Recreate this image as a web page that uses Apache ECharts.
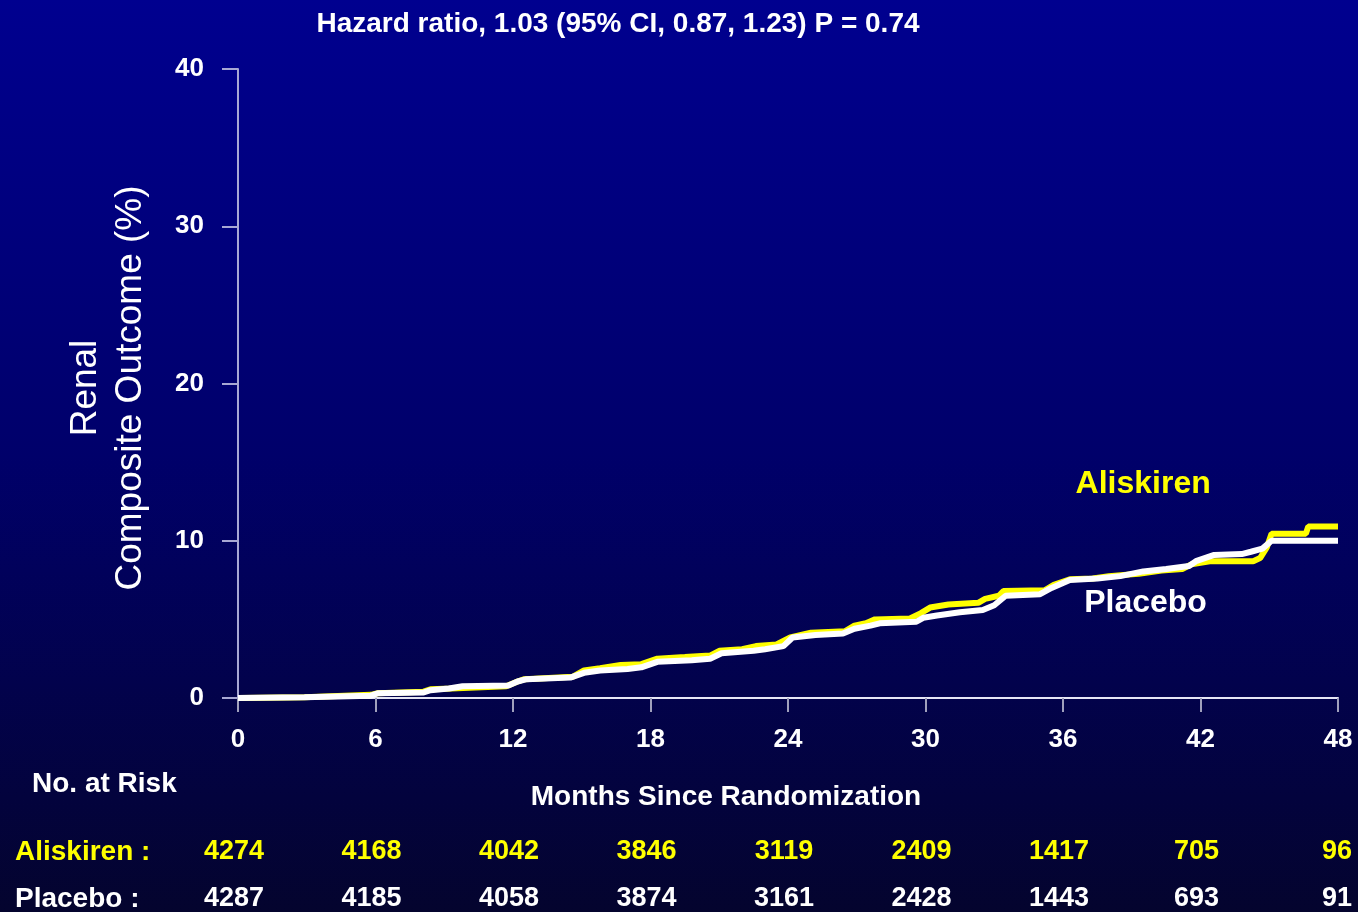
<!DOCTYPE html>
<html>
<head>
<meta charset="utf-8">
<script src="https://cdn.jsdelivr.net/npm/echarts@6/dist/echarts.min.js"></script>
<style>
  html, body { margin: 0; padding: 0; background: #000060; }
  #chart { width: 1358px; height: 912px; }
</style>
</head>
<body>
<div id="chart"></div>
<script>
// Kaplan–Meier cumulative incidence of the renal composite outcome
const FONT = '"Liberation Sans", Arial, sans-serif';

const titleText = 'Hazard ratio, 1.03 (95% CI, 0.87, 1.23) P = 0.74';
const monthTicks = [0, 6, 12, 18, 24, 30, 36, 42, 48];
const percentTicks = [0, 10, 20, 30, 40];

// [months, cumulative %]
const aliskiren = [
  [0, 0], [2.9, 0.05], [5.8, 0.2], [6.1, 0.3], [8.1, 0.4], [8.4, 0.55], [9.3, 0.6],
  [11.7, 0.75], [12.2, 1.05], [12.5, 1.2], [14.6, 1.35], [15.1, 1.75], [15.8, 1.9],
  [16.7, 2.1], [17.6, 2.15], [18.3, 2.5], [19.5, 2.6], [20.6, 2.7], [21.0, 3.0],
  [22.0, 3.1], [22.6, 3.3], [23.5, 3.4], [24.1, 3.85], [25.0, 4.15], [26.5, 4.25],
  [26.9, 4.6], [27.4, 4.75], [27.8, 5.0], [29.3, 5.05], [29.8, 5.4], [30.2, 5.75],
  [31.0, 5.95], [32.3, 6.05], [32.6, 6.3], [33.2, 6.5], [33.4, 6.8], [35.2, 6.85],
  [35.6, 7.2], [36.3, 7.55], [37.3, 7.6], [38.0, 7.75], [39.3, 7.9], [40.3, 8.1],
  [41.2, 8.2], [41.6, 8.5], [42.4, 8.7], [44.3, 8.7], [44.6, 8.9], [44.9, 9.6],
  [45.1, 10.45], [46.6, 10.45], [46.7, 10.9], [48.0, 10.9]
];
const placebo = [
  [0, 0], [2.9, 0.05], [5.8, 0.15], [6.1, 0.3], [8.1, 0.35], [8.4, 0.5], [9.2, 0.6],
  [9.8, 0.75], [11.8, 0.8], [12.2, 1.05], [12.6, 1.2], [14.5, 1.3], [15.1, 1.6],
  [15.8, 1.75], [17.0, 1.85], [17.6, 1.95], [18.3, 2.3], [19.8, 2.4], [20.6, 2.5],
  [21.1, 2.85], [22.5, 3.0], [23.0, 3.1], [23.8, 3.3], [24.2, 3.85], [25.2, 4.0],
  [26.4, 4.1], [26.9, 4.4], [27.6, 4.6], [28.0, 4.75], [29.6, 4.85], [29.9, 5.1],
  [30.5, 5.25], [31.5, 5.45], [32.5, 5.6], [33.0, 5.9], [33.5, 6.5], [35.0, 6.6],
  [35.5, 7.0], [36.3, 7.5], [37.5, 7.6], [38.5, 7.75], [39.5, 8.05], [40.5, 8.2],
  [41.5, 8.4], [41.8, 8.7], [42.6, 9.1], [43.8, 9.15], [44.2, 9.3], [44.7, 9.5],
  [45.1, 10.0], [48.0, 10.0]
];

// Numbers at risk at each 6-month tick
const riskAliskiren = [4274, 4168, 4042, 3846, 3119, 2409, 1417, 705, 96];
const riskPlacebo = [4287, 4185, 4058, 3874, 3161, 2428, 1443, 693, 91];

const chart = echarts.init(document.getElementById('chart'), null, { renderer: 'canvas' });

chart.setOption({
  animation: false,
  backgroundColor: {
    type: 'linear', x: 0, y: 0, x2: 0, y2: 1,
    colorStops: [
      { offset: 0, color: '#00008f' },
      { offset: 0.5, color: '#00006a' },
      { offset: 1, color: '#04042e' }
    ]
  },
  title: {
    text: titleText,
    left: 613, top: 5, textAlign: 'center',
    textStyle: { color: '#ffffff', fontFamily: FONT, fontWeight: 'bold', fontSize: 28 }
  },
  grid: { left: 238, right: 20, top: 69, bottom: 214, containLabel: false },
  xAxis: {
    type: 'value', min: 0, max: 48, interval: 6,
    axisLine: { show: true, onZero: false, lineStyle: { color: '#e6e6f4', width: 2 } },
    axisTick: { show: true, length: 14, lineStyle: { color: '#a0a0bc', width: 2 } },
    axisLabel: {
      color: '#ffffff', fontFamily: FONT, fontWeight: 'bold', fontSize: 26, margin: 29,
      formatter: v => monthTicks.includes(v) ? String(v) : ''
    },
    splitLine: { show: false }
  },
  yAxis: {
    type: 'value', min: 0, max: 40, interval: 10,
    axisLine: { show: true, lineStyle: { color: '#a8a8d4', width: 2 } },
    axisTick: { show: true, length: 16, lineStyle: { color: '#a8a8d4', width: 2 } },
    axisLabel: {
      color: '#ffffff', fontFamily: FONT, fontWeight: 'bold', fontSize: 26, margin: 34,
      formatter: v => percentTicks.includes(v) ? String(v) : ''
    },
    splitLine: { show: false }
  },
  series: [
    {
      name: 'Aliskiren', type: 'line', data: aliskiren, showSymbol: false,
      lineStyle: { color: '#ffff00', width: 6 }, z: 3
    },
    {
      name: 'Placebo', type: 'line', data: placebo, showSymbol: false,
      lineStyle: { color: '#ffffff', width: 6 }, z: 4
    }
  ]
});

// Annotations and the numbers-at-risk table, placed via the chart's own scales
const px = (m, v) => chart.convertToPixel({ gridIndex: 0 }, [m, v]);
const txt = (x, y, text, color, size, align) => ({
  type: 'text', x, y,
  style: {
    text, fill: color, font: `bold ${size}px ${FONT}`,
    textAlign: align || 'center', textVerticalAlign: 'middle'
  }
});

const graphics = [];
const a = px(39.5, 13.6);
graphics.push(txt(a[0], a[1], 'Aliskiren', '#ffff00', 32));
const p = px(39.6, 6.0);
graphics.push(txt(p[0], p[1], 'Placebo', '#ffffff', 32));

// rotated y-axis title
graphics.push({
  type: 'text', x: 108, y: 388, rotation: Math.PI / 2,
  style: {
    text: 'Renal\nComposite Outcome (%)', fill: '#ffffff',
    font: `normal 37px ${FONT}`, lineHeight: 45,
    textAlign: 'center', textVerticalAlign: 'middle'
  }
});

graphics.push(txt(726, 797, 'Months Since Randomization', '#ffffff', 28));
graphics.push(txt(32, 784, 'No. at Risk', '#ffffff', 28, 'left'));
graphics.push(txt(15, 852, 'Aliskiren :', '#ffff00', 28, 'left'));
graphics.push(txt(15, 899, 'Placebo :', '#ffffff', 28, 'left'));

monthTicks.forEach((m, i) => {
  const x = px(m, 0)[0];
  const last = i === monthTicks.length - 1;
  const cx = last ? 1352 : x - 4;
  const align = last ? 'right' : 'center';
  graphics.push(txt(cx, 852, String(riskAliskiren[i]), '#ffff00', 27, align));
  graphics.push(txt(cx, 899, String(riskPlacebo[i]), '#ffffff', 27, align));
});

chart.setOption({ graphic: graphics });
</script>
</body>
</html>
